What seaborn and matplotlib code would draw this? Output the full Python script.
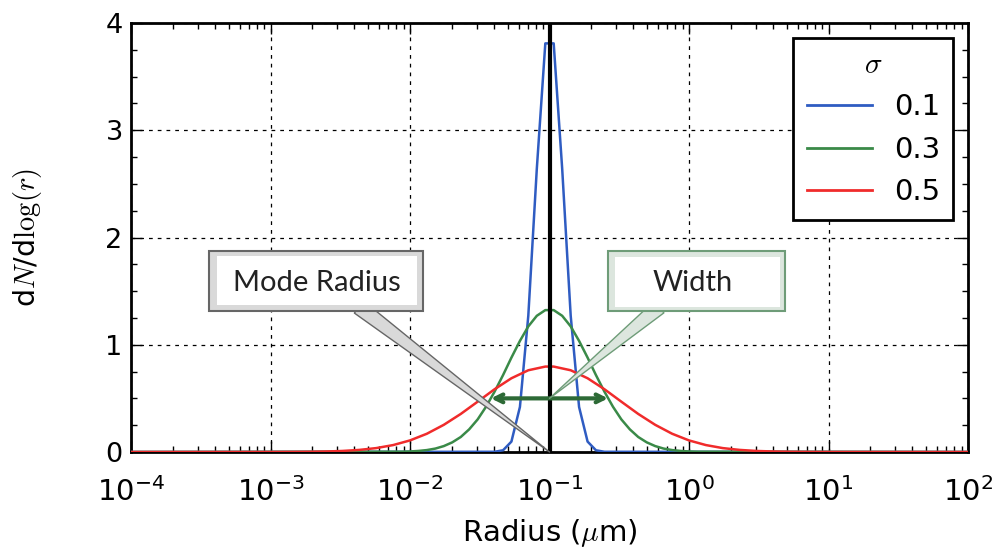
import pandas as pd
import seaborn as sns
import matplotlib.pyplot as plt
from matplotlib.patches import Rectangle
from matplotlib.ticker import MultipleLocator, LogLocator, FixedLocator

# log10(radius) sample points and dN/dlog(r)
blue_logr = [-4.0, -1.394, -1.333, -1.273, -1.212, -1.152, -1.091, -1.030,
             -0.970, -0.909, -0.848, -0.788, -0.727, -0.667, -0.606, 2.0]
blue_vals = [0.0, 0.002, 0.016, 0.097, 0.42, 1.27, 2.64, 3.81,
             3.81, 2.64, 1.27, 0.42, 0.097, 0.016, 0.002, 0.0]

green_logr = [-4.0, -2.061, -2.000, -1.939, -1.879, -1.818, -1.758, -1.697, -1.636,
              -1.576, -1.515, -1.455, -1.394, -1.333, -1.273, -1.212, -1.152,
              -1.091, -1.030, -0.970, -0.909, -0.848, -0.788, -0.727, -0.667,
              -0.606, -0.545, -0.485, -0.424, -0.364, -0.303, -0.242, -0.182,
              -0.121, -0.061, 0.000, 0.061, 2.0]
green_vals = [0.0, 0.003, 0.005, 0.010, 0.018, 0.032, 0.055, 0.090, 0.140,
              0.211, 0.304, 0.422, 0.562, 0.717, 0.880, 1.036, 1.171,
              1.270, 1.323, 1.323, 1.270, 1.171, 1.036, 0.880, 0.717,
              0.562, 0.422, 0.304, 0.211, 0.140, 0.090, 0.055, 0.032,
              0.018, 0.010, 0.005, 0.003, 0.0]

red_logr = [-4.0, -2.970, -2.848, -2.727, -2.606, -2.485, -2.364, -2.242, -2.121,
            -2.000, -1.879, -1.758, -1.636, -1.515, -1.394, -1.273, -1.152, -1.030,
            -0.970, -0.848, -0.727, -0.606, -0.485, -0.364, -0.242, -0.121,
            0.000, 0.121, 0.242, 0.364, 0.485, 0.606, 0.727, 0.848, 0.970, 2.0]
red_vals = [0.0, 0.0003, 0.0009, 0.0020, 0.0046, 0.0097, 0.0194, 0.0364, 0.0646,
            0.1080, 0.1703, 0.2532, 0.3550, 0.4692, 0.5850, 0.6876, 0.7621, 0.7965,
            0.7965, 0.7621, 0.6876, 0.5850, 0.4692, 0.3550, 0.2532, 0.1703,
            0.1080, 0.0646, 0.0364, 0.0194, 0.0097, 0.0046, 0.0020, 0.0009, 0.0003, 0.0]

sigmas = ['0.1', '0.3', '0.5']
colors = ['#2f5cc2', '#3a8a48', '#f02b2b']
x_ticks = [1e-4, 1e-3, 1e-2, 1e-1, 1e0, 1e1, 1e2]

mode_radius = 0.1
width_level = 0.5
width_ends = [0.038, 0.263]

frames = []
for s, lr, v in zip(sigmas, [blue_logr, green_logr, red_logr], [blue_vals, green_vals, red_vals]):
    frames.append(pd.DataFrame({'radius': [10 ** x for x in lr], 'dN': v, 'sigma': s}))
df = pd.concat(frames, ignore_index=True)

plt.rcParams['mathtext.fontset'] = 'cm'
W, H = 993, 549
fig = plt.figure(figsize=(W / 100, H / 100), dpi=100)
ax = fig.add_axes([131 / W, 1 - 452 / H, (968 - 131) / W, (452 - 23) / H])

sns.lineplot(data=df, x='radius', y='dN', hue='sigma', hue_order=sigmas,
             palette=colors, estimator=None, sort=False, linewidth=1.8, ax=ax, zorder=3)

ax.set_xscale('log')
ax.set_xlim(1e-4, 1e2)
ax.set_ylim(0, 4)
ax.yaxis.set_major_locator(MultipleLocator(1))
ax.yaxis.set_minor_locator(MultipleLocator(0.25))
ax.xaxis.set_major_locator(FixedLocator(x_ticks))
ax.xaxis.set_minor_locator(LogLocator(base=10, subs=range(2, 10), numticks=20))
ax.tick_params(which='both', direction='in', top=True, right=True, colors='black')
ax.tick_params(which='major', length=8, width=1)
ax.tick_params(which='minor', length=4, width=1)
ax.tick_params(axis='x', which='major', labelsize=21, pad=18)
ax.tick_params(axis='y', which='major', labelsize=19.5, pad=6)
ax.grid(True, which='major', color='black', linestyle=(0, (3, 4)), linewidth=0.9)
for sp in ax.spines.values():
    sp.set_linewidth(2)

ax.set_xlabel(r'Radius ($\mu$m)', fontsize=21, labelpad=7)
ax.set_ylabel(r'd$N$/d$\log(r)$', fontsize=20.5, labelpad=44)

ax.axvline(mode_radius, color='black', linewidth=3, zorder=4)

handles, labels = ax.get_legend_handles_labels()
leg = ax.legend(handles, labels, title=r'$\sigma$', loc='upper right', fontsize=21,
                title_fontsize=21, fancybox=False, edgecolor='black', framealpha=1,
                borderaxespad=0.5, handlelength=2.25, handletextpad=0.75,
                labelspacing=0.5, borderpad=0.45)
leg.get_frame().set_linewidth(2)
for line in leg.get_lines():
    line.set_linewidth(2)

# width arrow
ax.annotate('', xy=(width_ends[0], width_level), xytext=(width_ends[1], width_level),
            arrowprops=dict(arrowstyle='<->', color='#2d6a36', lw=3, mutation_scale=14,
                            shrinkA=0, shrinkB=0), zorder=5)


def callout(box, inner, label, text_xy, base_x, tip, frame, edge):
    x0, y0, x1, y1 = box
    ax.annotate('', xy=tip, xycoords='data', xytext=(base_x / W, 1 - (y1 - 4) / H),
                textcoords='figure fraction', annotation_clip=False,
                arrowprops=dict(arrowstyle='wedge,tail_width=1.1,shrink_factor=0.5',
                                fc=frame, ec=edge, lw=1, shrinkA=0, shrinkB=0), zorder=6)
    fig.add_artist(Rectangle((x0 / W, 1 - y1 / H), (x1 - x0) / W, (y1 - y0) / H,
                             transform=fig.transFigure, fc=frame, ec=edge, lw=1.5, zorder=6))
    ix0, iy0, ix1, iy1 = inner
    fig.add_artist(Rectangle((ix0 / W, 1 - iy1 / H), (ix1 - ix0) / W, (iy1 - iy0) / H,
                             transform=fig.transFigure, fc='white', ec='none', zorder=7))
    fig.text(text_xy[0] / W, 1 - text_xy[1] / H, label, ha='center', va='center',
             fontsize=21, family='Lato', color='#222222', zorder=8)


callout((209, 251, 423, 311), (217, 256, 417, 305), 'Mode Radius', (317, 283), 359,
        (mode_radius, 0), '#d9d9d9', '#666666')
callout((608, 251, 785, 311), (615, 257, 780, 307), 'Width', (693, 283), 659,
        (mode_radius, width_level), '#dce6de', '#6e9c78')

fig.savefig('out.png', dpi=100)
